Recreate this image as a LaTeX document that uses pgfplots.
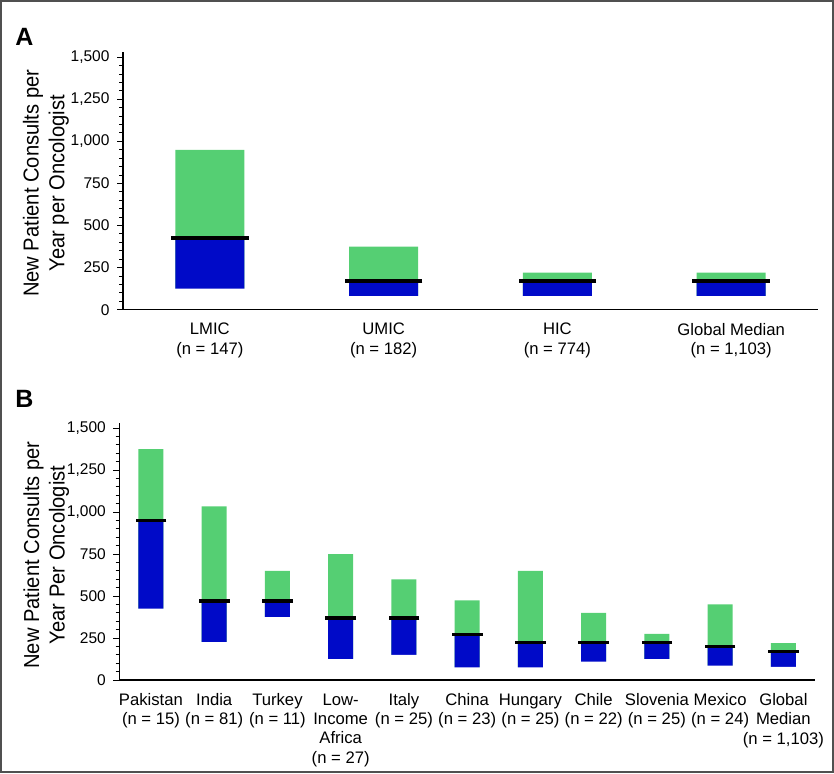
\documentclass[border=0pt]{standalone}
\usepackage{pgfplots}
\pgfplotsset{compat=1.18}
\usepackage{pgfplotstable}
\usepackage{fontspec}
\setmainfont{Liberation Sans}
\newfontfamily\condfont[FakeStretch=0.93]{Liberation Sans}

\definecolor{qgreen}{RGB}{85,207,115}
\definecolor{qblue}{RGB}{0,10,200}
\definecolor{framegray}{RGB}{80,80,80}

% quartiles: q1 = bottom of blue, med = black line, q3 = top of green
\pgfplotstableread{
x q1 med q3
0 125 425 950
1 80 170 375
2 80 170 220
3 80 170 220
}\dataA

\pgfplotstableread{
x q1 med q3
0 425 950 1375
1 225 470 1035
2 375 470 650
3 125 370 750
4 150 370 600
5 75 270 475
6 75 225 650
7 110 225 400
8 125 225 275
9 85 200 450
10 78 170 220
}\dataB

\pgfplotsset{
  panel/.style={
    scale only axis,
    axis on top,
    ymin=0, ymax=1533,
    axis x line*=bottom, axis y line*=left,
    x axis line style={-, line width=0.8pt},
    y axis line style={-, line width=0.8pt},
    ytick={0,250,...,1500},
    yticklabels={0,250,500,750,{1,000},{1,250},{1,500}},
    minor y tick num=4,
    tick align=outside,
    major tick length=3.6pt, minor tick length=2.2pt,
    ytick style={black, line width=0.6pt},
    xtick style={draw=none},
    yticklabel style={font=\fontsize{9.3}{11}\selectfont, xshift=-1pt},
    xticklabel style={font=\fontsize{10}{11.6}\selectfont, align=center, yshift=-1pt},
    ylabel style={font=\condfont\fontsize{13}{15.4}\selectfont, align=center, anchor=center},
  },
}

\begin{document}
\begin{tikzpicture}
\useasboundingbox (0,0) rectangle (500.4pt,463.8pt);
\draw[framegray, line width=1.2pt] (0.6pt,0.6pt) rectangle (499.8pt,463.2pt);

% === Panel A ===
\begin{axis}[
    panel,
    at={(73.8pt,278pt)}, anchor=south west,
    width=417pt, height=154.8pt,
    xmin=-0.5, xmax=3.5,
    xtick={0,1,2,3},
    xticklabels={{LMIC\\(n = 147)},{UMIC\\(n = 182)},{HIC\\(n = 774)},{Global Median\\(n = 1,103)}},
    ylabel={New Patient Consults per\\Year per Oncologist},
    ylabel style={at={(axis description cs:-0.111,0.49)}},
]
\addplot[ybar, bar width=41.4pt, bar shift=0pt, fill=qgreen, draw=none] table[x=x, y=q3] {\dataA};
\addplot[ybar, bar width=41.4pt, bar shift=0pt, fill=qblue, draw=none] table[x=x, y=med] {\dataA};
\addplot[ybar, bar width=43pt, bar shift=0pt, fill=white, draw=none] table[x=x, y=q1] {\dataA};
\addplot[only marks, mark=-, mark size=23.3pt, mark options={line width=2pt, black}] table[x=x, y=med] {\dataA};
\end{axis}

% === Panel B ===
\begin{axis}[
    panel,
    at={(71.6pt,55.8pt)}, anchor=south west,
    width=417.4pt, height=154.4pt,
    xmin=-0.5, xmax=10.5,
    xtick={0,...,10},
    xticklabels={{Pakistan\\(n = 15)},{India\\(n = 81)},{Turkey\\(n = 11)},{Low-\\Income\\Africa\\(n = 27)},{Italy\\(n = 25)},{China\\(n = 23)},{Hungary\\(n = 25)},{Chile\\(n = 22)},{Slovenia\\(n = 25)},{Mexico\\(n = 24)},{Global\\Median\\(n = 1,103)}},
    ylabel={New Patient Consults per\\Year Per Oncologist},
    ylabel style={at={(axis description cs:-0.105,0.486)}},
]
\addplot[ybar, bar width=15pt, bar shift=0pt, fill=qgreen, draw=none] table[x=x, y=q3] {\dataB};
\addplot[ybar, bar width=15pt, bar shift=0pt, fill=qblue, draw=none] table[x=x, y=med] {\dataB};
\addplot[ybar, bar width=16pt, bar shift=0pt, fill=white, draw=none] table[x=x, y=q1] {\dataB};
\addplot[only marks, mark=-, mark size=9.2pt, mark options={line width=2pt, black}] table[x=x, y=med] {\dataB};
\end{axis}

\node[font=\bfseries\fontsize{15}{15}\selectfont] at (14.6pt,441.6pt) {A};
\node[font=\bfseries\fontsize{15}{15}\selectfont] at (14.6pt,224.4pt) {B};
\end{tikzpicture}
\end{document}
